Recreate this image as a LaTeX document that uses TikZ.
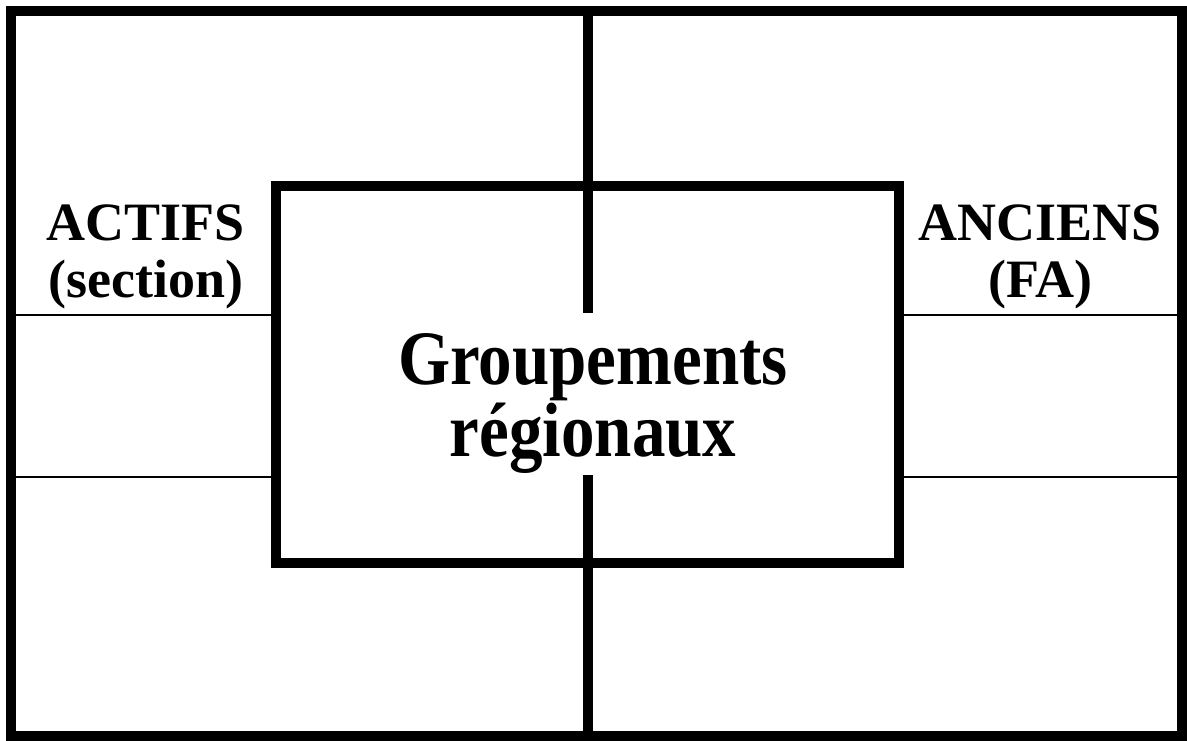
\documentclass[tikz,border=0pt]{standalone}
\usepackage{fontspec}
\setmainfont{Liberation Serif}
\newfontfamily\groupfont[FakeStretch=0.87]{Liberation Serif}
\tikzset{
    thickline/.style={line width=10pt},
    thinline/.style={line width=2pt},
    sidelabel/.style={inner sep=0pt, anchor=north, align=center, font={\bfseries\fontsize{54pt}{57pt}\selectfont}},
    mainlabel/.style={inner sep=0pt, anchor=north, align=center, font={\groupfont\bfseries\fontsize{77pt}{72pt}\selectfont}}
}
\begin{document}
\begin{tikzpicture}[x=1pt, y=-1pt]
                \useasboundingbox (0,0) rectangle (1187,740);
                \node[draw, thickline, minimum width=1171pt, minimum height=725pt, inner sep=0pt] (frame) at (596.5,373.5) {};
                \node[draw, thickline, minimum width=623pt, minimum height=377pt, inner sep=0pt] (box) at (587.5,374.5) {};

                \coordinate (gaptop) at (588,313);
                \coordinate (gapbot) at (588,475);
                \coordinate (rowa) at (0,315);
                \coordinate (rowb) at (0,477);

                \draw[thickline] (gaptop |- frame.north) -- (gaptop);
                \draw[thickline] (gapbot) -- (gapbot |- frame.south);

                \draw[thinline] (frame.west |- rowa) -- (box.west |- rowa);
                \draw[thinline] (frame.west |- rowb) -- (box.west |- rowb);
                \draw[thinline] (box.east |- rowa) -- (frame.east |- rowa);
                \draw[thinline] (box.east |- rowb) -- (frame.east |- rowb);

                \node[sidelabel] (actifs) at (146,205) {ACTIFS\\(section)};
                \node[sidelabel] (anciens) at (1040,205) {ANCIENS\\(FA)};
                \node[mainlabel] (groupements) at (593,333) {Groupements\\régionaux};
            \end{tikzpicture}
\end{document}
